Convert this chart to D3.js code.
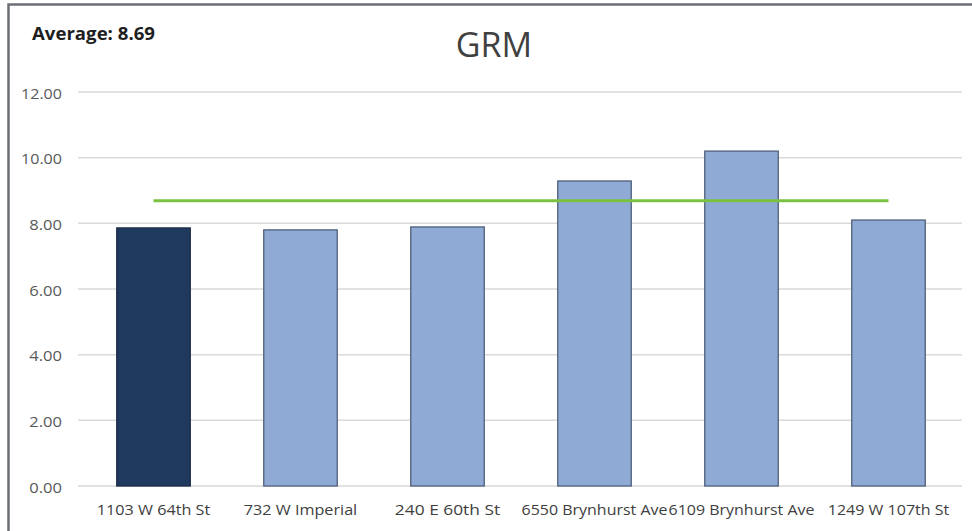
<!DOCTYPE html>
<html>
<head>
<meta charset="utf-8">
<script src="https://cdn.jsdelivr.net/npm/d3@7"></script>
<style>
  body { margin: 0; background: #fff; }
  svg text { font-family: "Open Sans", "Noto Sans", sans-serif; }
</style>
</head>
<body>
<svg id="chart" width="972" height="531"></svg>
<script>
// values
let categories = ["1103 W 64th St", "732 W Imperial", "240 E 60th St", "6550 Brynhurst Ave", "6109 Brynhurst Ave", "1249 W 107th St"];
let grm_values = [7.86, 7.80, 7.89, 9.29, 10.20, 8.10];
let average_value = 8.69;
let y_ticks = [0, 2, 4, 6, 8, 10, 12];
let highlight_index = 0;

let svg = d3.select("#chart");
let width = 972, height = 531;

let plot_left = 80, plot_right = 962, plot_top = 92, plot_bottom = 486;

// frame
svg.append("rect")
  .attr("x", 8.5).attr("y", 4.5)
  .attr("width", width).attr("height", height)
  .attr("fill", "#fff")
  .attr("stroke", "#6b6f75").attr("stroke-width", 2.5);

let x = d3.scaleBand().domain(categories).range([plot_left, plot_right]).paddingInner(0.5).paddingOuter(0.25);
let y = d3.scaleLinear().domain([0, 12]).range([plot_bottom, plot_top]);

// gridlines
svg.append("g").attr("class", "grid")
  .selectAll("line").data(y_ticks).enter().append("line")
  .attr("x1", plot_left - 2).attr("x2", plot_right)
  .attr("y1", d => y(d)).attr("y2", d => y(d))
  .attr("stroke", "#d9d9d9").attr("stroke-width", 1.5);

// y axis labels
let yAxis = d3.axisLeft(y).tickValues(y_ticks).tickFormat(d3.format(".2f")).tickSize(0).tickPadding(0);
let gy = svg.append("g").attr("transform", "translate(62,0)").call(yAxis);
gy.select(".domain").remove();
gy.selectAll("text")
  .attr("fill", "#595959")
  .attr("dy", "0.45em")
  .style("font-size", "14px")
  .style("font-family", "'Open Sans', sans-serif")
  .attr("textLength", d => d3.format(".2f")(d).length * 8.2)
  .attr("lengthAdjust", "spacingAndGlyphs");

// bars
svg.append("g").attr("class", "bars")
  .selectAll("rect").data(grm_values).enter().append("rect")
  .attr("x", (d, i) => x(categories[i]))
  .attr("y", d => y(d))
  .attr("width", x.bandwidth())
  .attr("height", d => y(0) - y(d))
  .attr("fill", (d, i) => i == highlight_index ? "#203a5f" : "#8faad5")
  .attr("stroke", (d, i) => i == highlight_index ? "#1a2c46" : "#4f6079")
  .attr("stroke-width", 1.3);

// average line
let first = categories[0], last = categories[categories.length - 1];
svg.append("line")
  .attr("x1", x(first) + x.bandwidth() / 2)
  .attr("x2", x(last) + x.bandwidth() / 2)
  .attr("y1", y(average_value)).attr("y2", y(average_value))
  .attr("stroke", "#7cc242").attr("stroke-width", 3);

// x axis labels
let xAxis = d3.axisBottom(x).tickSize(0).tickPadding(0);
let gx = svg.append("g").attr("transform", "translate(0,515)").call(xAxis);
gx.select(".domain").remove();
gx.selectAll("text")
  .attr("fill", "#404040")
  .attr("dy", 0)
  .style("font-size", "15px")
  .style("font-family", "'Open Sans', sans-serif")
  .attr("textLength", d => d.length * 8.1)
  .attr("lengthAdjust", "spacingAndGlyphs");

// title
svg.append("text")
  .attr("x", 494).attr("y", 57)
  .attr("text-anchor", "middle")
  .attr("fill", "#404040")
  .style("font-size", "34px")
  .text("GRM");

let avg_label = "Average: " + average_value.toFixed(2);
svg.append("text")
  .attr("x", 32).attr("y", 40)
  .attr("fill", "#1e1e1e")
  .style("font-size", "17px")
  .style("font-weight", "bold")
  .attr("textLength", 123)
  .attr("lengthAdjust", "spacingAndGlyphs")
  .text(avg_label);
</script>
</body>
</html>
